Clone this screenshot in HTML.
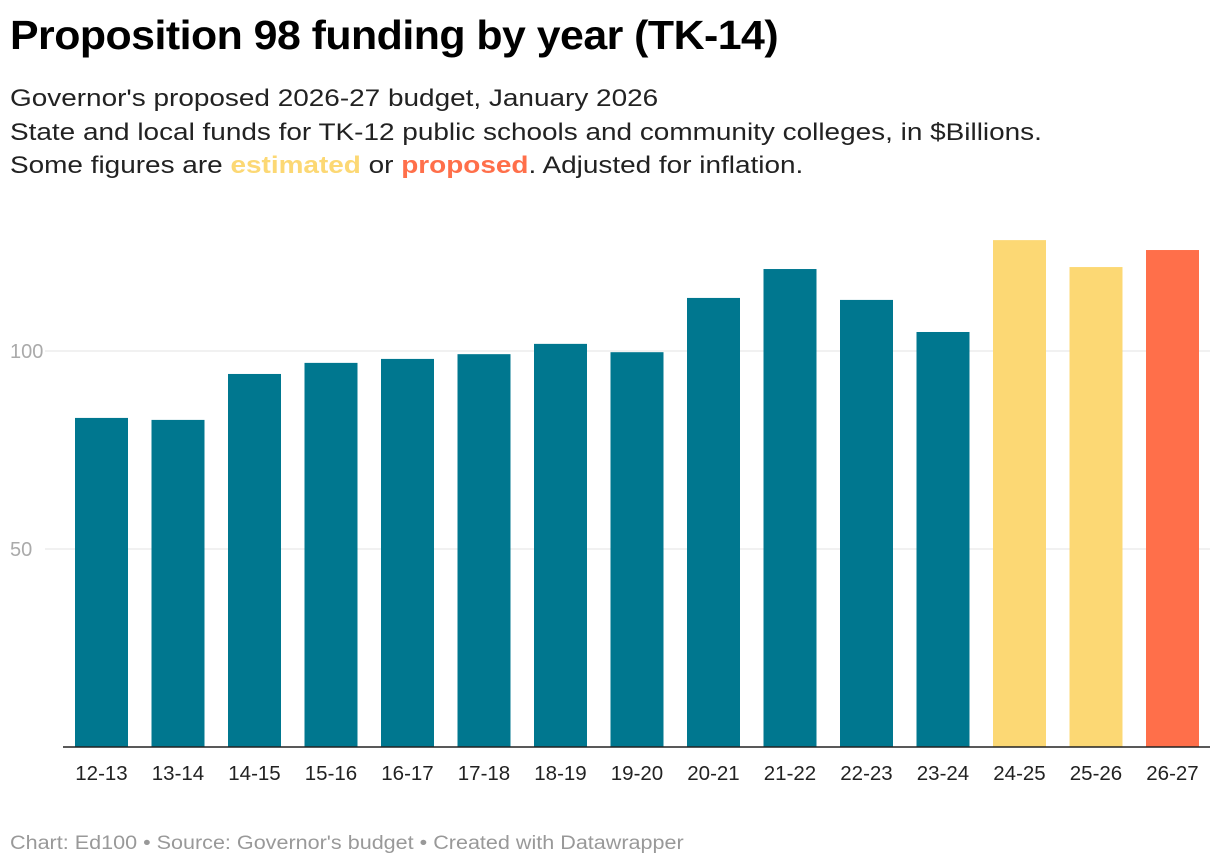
<!DOCTYPE html>
<html><head><meta charset="utf-8"><style>
body{margin:0;width:1220px;height:868px;background:#fff;font-family:"Liberation Sans",sans-serif;position:relative;overflow:hidden}
.t{position:absolute;left:10px;top:12px;font-size:41px;font-weight:bold;color:#000;letter-spacing:-0.5px;transform:scaleX(1.045);transform-origin:left top;white-space:nowrap}
.s{position:absolute;left:10px;top:82px;font-size:24.5px;line-height:33.5px;color:#222;transform:scaleX(1.14);transform-origin:left top;white-space:nowrap}
.f{position:absolute;left:10px;top:833px;font-size:19px;color:#999;transform:scaleX(1.135);transform-origin:left top;white-space:nowrap}
</style></head><body>
<div class="t">Proposition 98 funding by year (TK-14)</div>
<div class="s">Governor's proposed 2026-27 budget, January 2026<br>State and local funds for TK-12 public schools and community colleges, in $Billions.<br>Some figures are <b style="color:#fcd874">estimated</b> or <b style="color:#ff6f4a">proposed</b>. Adjusted for inflation.</div>
<svg id="c" width="1220" height="868" style="position:absolute;left:0;top:0"></svg>
<div class="f">Chart: Ed100 • Source: Governor's budget • Created with Datawrapper</div>
<script>
const categories=["12-13","13-14","14-15","15-16","16-17","17-18","18-19","19-20","20-21","21-22","22-23","23-24","24-25","25-26","26-27"];
const values=[83.1,82.6,94.2,97.0,98.0,99.2,101.8,99.7,113.4,120.7,112.9,104.8,128.0,121.2,125.5];
const status=["a","a","a","a","a","a","a","a","a","a","a","a","e","e","p"];
const ticks=[50,100];
const colors={a:"#00778f",e:"#fcd874",p:"#ff6f4a"};
const svg=document.getElementById('c');const NS="http://www.w3.org/2000/svg";
const y=v=>747-v*3.96;const x=i=>75+i*76.5;const bw=53;
function mk(t,a){const e=document.createElementNS(NS,t);for(const k in a)e.setAttribute(k,a[k]);svg.appendChild(e);return e;}
ticks.forEach(t=>{
const l=mk('line',{x1:45,x2:1210,y1:y(t),y2:y(t),stroke:'#e3e3e3','stroke-width':1});


const tx=mk('text',{x:10,y:y(t)+7,'font-size':20,fill:'#aaa','font-family':'Liberation Sans'});tx.textContent=t;


});
categories.forEach((c,i)=>{
const r=mk('rect',{x:x(i),y:y(values[i]),width:bw,height:747-y(values[i]),fill:colors[status[i]]});


const tx=mk('text',{x:x(i)+bw/2,y:780,'font-size':20.5,fill:'#222','text-anchor':'middle','font-family':'Liberation Sans'});tx.textContent=c;


});
const b=mk('line',{x1:63,x2:1210,y1:747,y2:747,stroke:'#222','stroke-width':1.5});


</script>
</body></html>
